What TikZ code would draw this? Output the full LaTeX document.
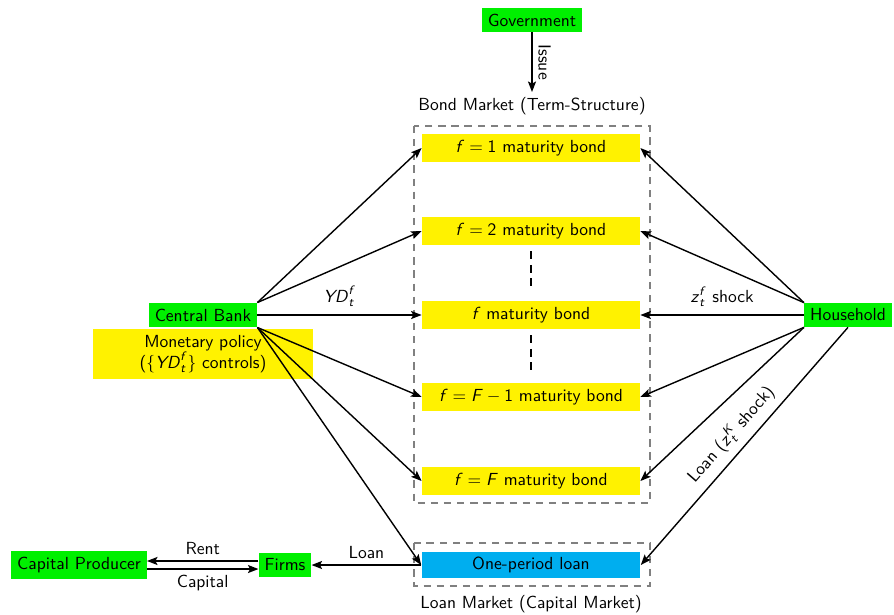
\documentclass[tikz,border=0pt]{standalone}
\usepackage{amsmath}
\usetikzlibrary{arrows.meta}
\definecolor{gr}{HTML}{00F000}
\definecolor{ye}{HTML}{FFF200}
\definecolor{cy}{HTML}{00AEEF}
\newcommand\mi[1]{\text{\itshape #1\/}}
\begin{document}
\sffamily
\begin{tikzpicture}[x=0.5714pt,y=-0.5714pt,font=\sffamily,
  agent/.style={fill=gr},
  bond/.style={fill=ye,minimum width=124.6pt,minimum height=16pt,inner sep=0pt},
  arr/.style={thick,-{Stealth[length=6pt,width=4.6pt,inset=1.2pt]}},
  market/.style={draw=gray,thick,dash pattern=on 4.2pt off 3.3pt},
  gap/.style={thick,dash pattern=on 4.5pt off 3.2pt}]
\useasboundingbox (0,0) rectangle (894,614);
% market boxes
\draw[market] (414,126) rectangle (650,503);
\draw[market] (414,543) rectangle (650,586);
\node (bmlab) at (532,106) {Bond Market (Term-Structure)};
\node (lmlab) at (531,604) {Loan Market (Capital Market)};
% agents
\node[agent] (gov) at (532,20) {Government};
\node[agent] (cb) at (203,315) {Central Bank};
\node[agent] (hh) at (848,315) {Household};
\node[agent] (firms) at (285,565) {Firms};
\node[agent] (cp) at (79,565) {Capital Producer};
\node[fill=ye,minimum width=125.7pt,minimum height=28.6pt,align=center,inner sep=0pt] (mp) at (203,354)
  {Monetary policy\\(\{$\mi{YD}_{\mi{t}}^{\mi{f}}$\} controls)};
% bonds
\node[bond] (b1) at (531,148) {$\mi{f}=\text{1}$ maturity bond};
\node[bond] (b2) at (531,231) {$\mi{f}=\text{2}$ maturity bond};
\node[bond] (b3) at (531,315) {$\mi{f}$ maturity bond};
\node[bond] (b4) at (531,397) {$\mi{f}=\mi{F}-\text{1}$ maturity bond};
\node[bond] (b5) at (531,481) {$\mi{f}=\mi{F}$ maturity bond};
\node[fill=cy,minimum width=125.1pt,minimum height=15.4pt,inner sep=0pt] (loan) at (531,565) {One-period loan};
% gaps
\draw[gap] (b2.south) ++(0,6) coordinate (g1a) -- ++(0,40) coordinate (g1b);
\draw[gap] (b3.south) ++(0,6) coordinate (g2a) -- ++(0,40) coordinate (g2b);
% issue
\coordinate (issueend) at (532,92);
\draw[arr] (gov) -- (issueend) node[midway,rotate=-90,anchor=south] {Issue};
% central bank arrows
\draw[arr] (cb.north east) -- (b1.west);
\draw[arr] (cb.north east) -- (b2.west);
\draw[arr] (cb.east) -- (b3.west) node[midway,above=1pt] {$\mi{YD}_{\mi{t}}^{\mi{f}}$};
\draw[arr] (cb.south east) -- (b4.west);
\draw[arr] (cb.south east) -- (b5.west);
\draw[arr] (cb.south east) -- (loan.west);
% household arrows
\draw[arr] (hh.north west) -- (b1.east);
\draw[arr] (hh.north west) -- (b2.east);
\draw[arr] (hh.west) -- (b3.east) node[midway,above=1pt] {$\mi{z}_{\mi{t}}^{\mi{f}}$ shock};
\draw[arr] (hh.south west) -- (b4.east);
\draw[arr] (hh.south west) -- (b5.east);
\draw[arr] (hh.south) -- (loan.east) node[midway,sloped,above=1pt] {Loan ($\mi{z}_{\mi{t}}^{\mi{K}}$ shock)};
% loan market
\draw[arr] (loan.west) -- (firms.east) node[midway,above] {Loan};
\draw[arr] ([yshift=2.3pt]firms.west) -- ([yshift=2.3pt]cp.east) node[midway,above] {Rent};
\draw[arr] ([yshift=-2.3pt]cp.east) -- ([yshift=-2.3pt]firms.west) node[midway,below] {Capital};
\end{tikzpicture}
\end{document}
